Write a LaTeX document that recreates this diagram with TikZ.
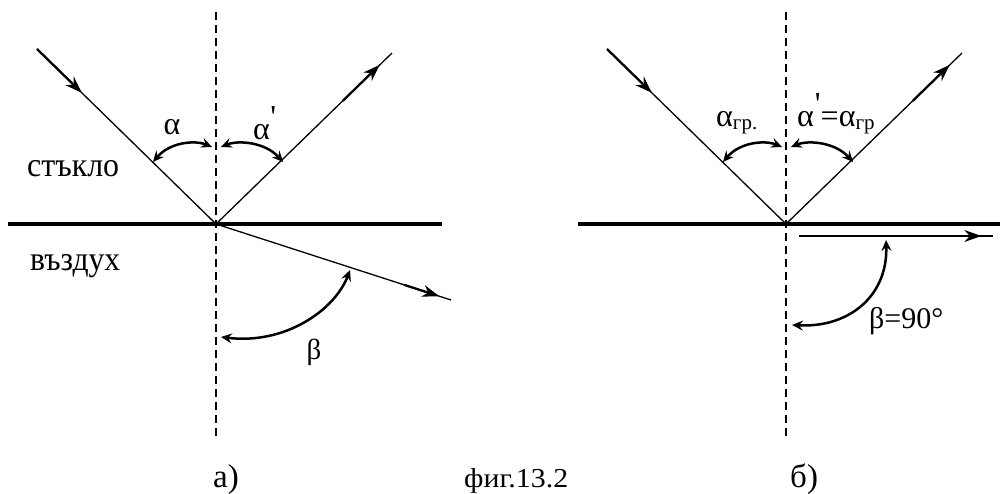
\documentclass[tikz,border=0pt]{standalone}
\usepackage{fontspec}
\setmainfont{Liberation Serif}
\usepackage{graphicx}
\usetikzlibrary{arrows.meta,decorations.markings,calc}
\newcommand{\prm}{\raisebox{12pt}{\textquotesingle}}
\tikzset{
  ray/.style={line width=1.3pt},
  thickseg/.style={line width=2.3pt},
  surface/.style={line width=4.5pt},
  normal/.style={line width=1.5pt, dash pattern=on 8pt off 5pt},
  tipmark/.style={postaction={decorate},decoration={markings,
     mark=at position #1 with {\arrow{Stealth[length=17pt,width=12pt,inset=5.5pt]}}}},
  anglearc/.style={line width=2.5pt,{Stealth[length=11pt,width=10pt,inset=4pt]}-{Stealth[length=11pt,width=10pt,inset=4pt]}},
  lbl/.style={font=\fontsize{32}{36}\selectfont, inner sep=0pt, anchor=base},
  word/.style={inner sep=0pt, anchor=base west},
}
\begin{document}
\begin{tikzpicture}[x=1pt,y=-1pt]
\useasboundingbox (0,0) rectangle (1000,494);
% ---------- left (a) ----------
\coordinate (Oa) at (216,224);
\coordinate (Nat) at (216,12);
\coordinate (Nab) at (216,437);
\coordinate (SaL) at (8,224);
\coordinate (SaR) at (442,224);
\coordinate (Ia) at (37,49);
\coordinate (Ra) at (392,53);
\coordinate (Ta) at (451,300);
\draw[normal] (Nat) -- (Nab);
\draw[surface] (SaL) -- (SaR);
\draw[ray, tipmark=0.25] (Ia) -- (Oa);
\draw[thickseg] (Ia) -- ($(Ia)!0.2!(Oa)$);
\draw[ray, tipmark=0.93] (Oa) -- (Ra);
\draw[thickseg] ($(Oa)!0.72!(Ra)$) -- ($(Oa)!0.9!(Ra)$);
\draw[ray, tipmark=0.95] (Oa) -- (Ta);
\draw[thickseg] ($(Oa)!0.8!(Ta)$) -- ($(Oa)!0.92!(Ta)$);
\coordinate (a1) at (153,162);
\coordinate (a2) at (212,147);
\coordinate (a3) at (221,147);
\coordinate (a4) at (283,162);
\draw[anglearc] (a1) .. controls (170,142) and (195,140) .. (a2);
\draw[anglearc] (a3) .. controls (238,140) and (265,142) .. (a4);
\coordinate (b1) at (221,337);
\coordinate (b2) at (350,270);
\draw[anglearc] (b1) .. controls (285,345) and (335,310) .. (b2);
\node[lbl] (la) at (172,135) {α};
\node[lbl, anchor=base west] (lap) at (253,140) {α\kern0.5pt\prm};
\node[lbl, font=\fontsize{29}{33}\selectfont] (lb) at (314,359) {β};
\node[word] (glass) at (27,177) {\resizebox{92pt}{16pt}{\fontsize{34}{40}\selectfont стъкло}};
\node[word] (air) at (30,270) {\resizebox{90pt}{16pt}{\fontsize{34}{40}\selectfont въздух}};
\node[word, font=\fontsize{33}{38}\selectfont] (capa) at (213,487) {а)};
\node[word] (fig) at (464,487) {\resizebox{104pt}{19pt}{\fontsize{24}{28}\selectfont фиг.13.2}};
% ---------- right (b) ----------
\coordinate (Ob) at (786,224);
\coordinate (Nbt) at (786,12);
\coordinate (Nbb) at (786,437);
\coordinate (SbL) at (578,224);
\coordinate (SbR) at (1000,224);
\coordinate (Ib) at (607,49);
\coordinate (Rb) at (962,53);
\coordinate (Gb1) at (799,236);
\coordinate (Gb2) at (993,236);
\draw[normal] (Nbt) -- (Nbb);
\draw[surface] (SbL) -- (SbR);
\draw[ray, tipmark=0.25] (Ib) -- (Ob);
\draw[thickseg] (Ib) -- ($(Ib)!0.2!(Ob)$);
\draw[ray, tipmark=0.93] (Ob) -- (Rb);
\draw[thickseg] ($(Ob)!0.72!(Rb)$) -- ($(Ob)!0.9!(Rb)$);
\draw[ray, tipmark=0.94] (Gb1) -- (Gb2);
\draw[thickseg] ($(Gb1)!0.69!(Gb2)$) -- ($(Gb1)!0.9!(Gb2)$);
\coordinate (c1) at (723,162);
\coordinate (c2) at (782,147);
\coordinate (c3) at (791,147);
\coordinate (c4) at (853,162);
\draw[anglearc] (c1) .. controls (740,142) and (765,140) .. (c2);
\draw[anglearc] (c3) .. controls (808,140) and (835,142) .. (c4);
\coordinate (d1) at (792,325);
\coordinate (d2) at (886,240);
\draw[anglearc] (d1) .. controls (850,328) and (888,295) .. (d2);
\node[lbl, anchor=base west] (lagr) at (716,127) {α\raisebox{-3pt}{\fontsize{21}{24}\selectfont гр.}};
\node[lbl, anchor=base west] (lapgr) at (797,127) {α\kern1pt\prm\kern0pt=α\raisebox{-3pt}{\fontsize{21}{24}\selectfont гр}};
\node[lbl, anchor=base west, font=\fontsize{30}{34}\selectfont] (lb90) at (869,328) {β=90°};
\node[word, font=\fontsize{33}{38}\selectfont] (capb) at (790,487) {б)};
\end{tikzpicture}
\end{document}
